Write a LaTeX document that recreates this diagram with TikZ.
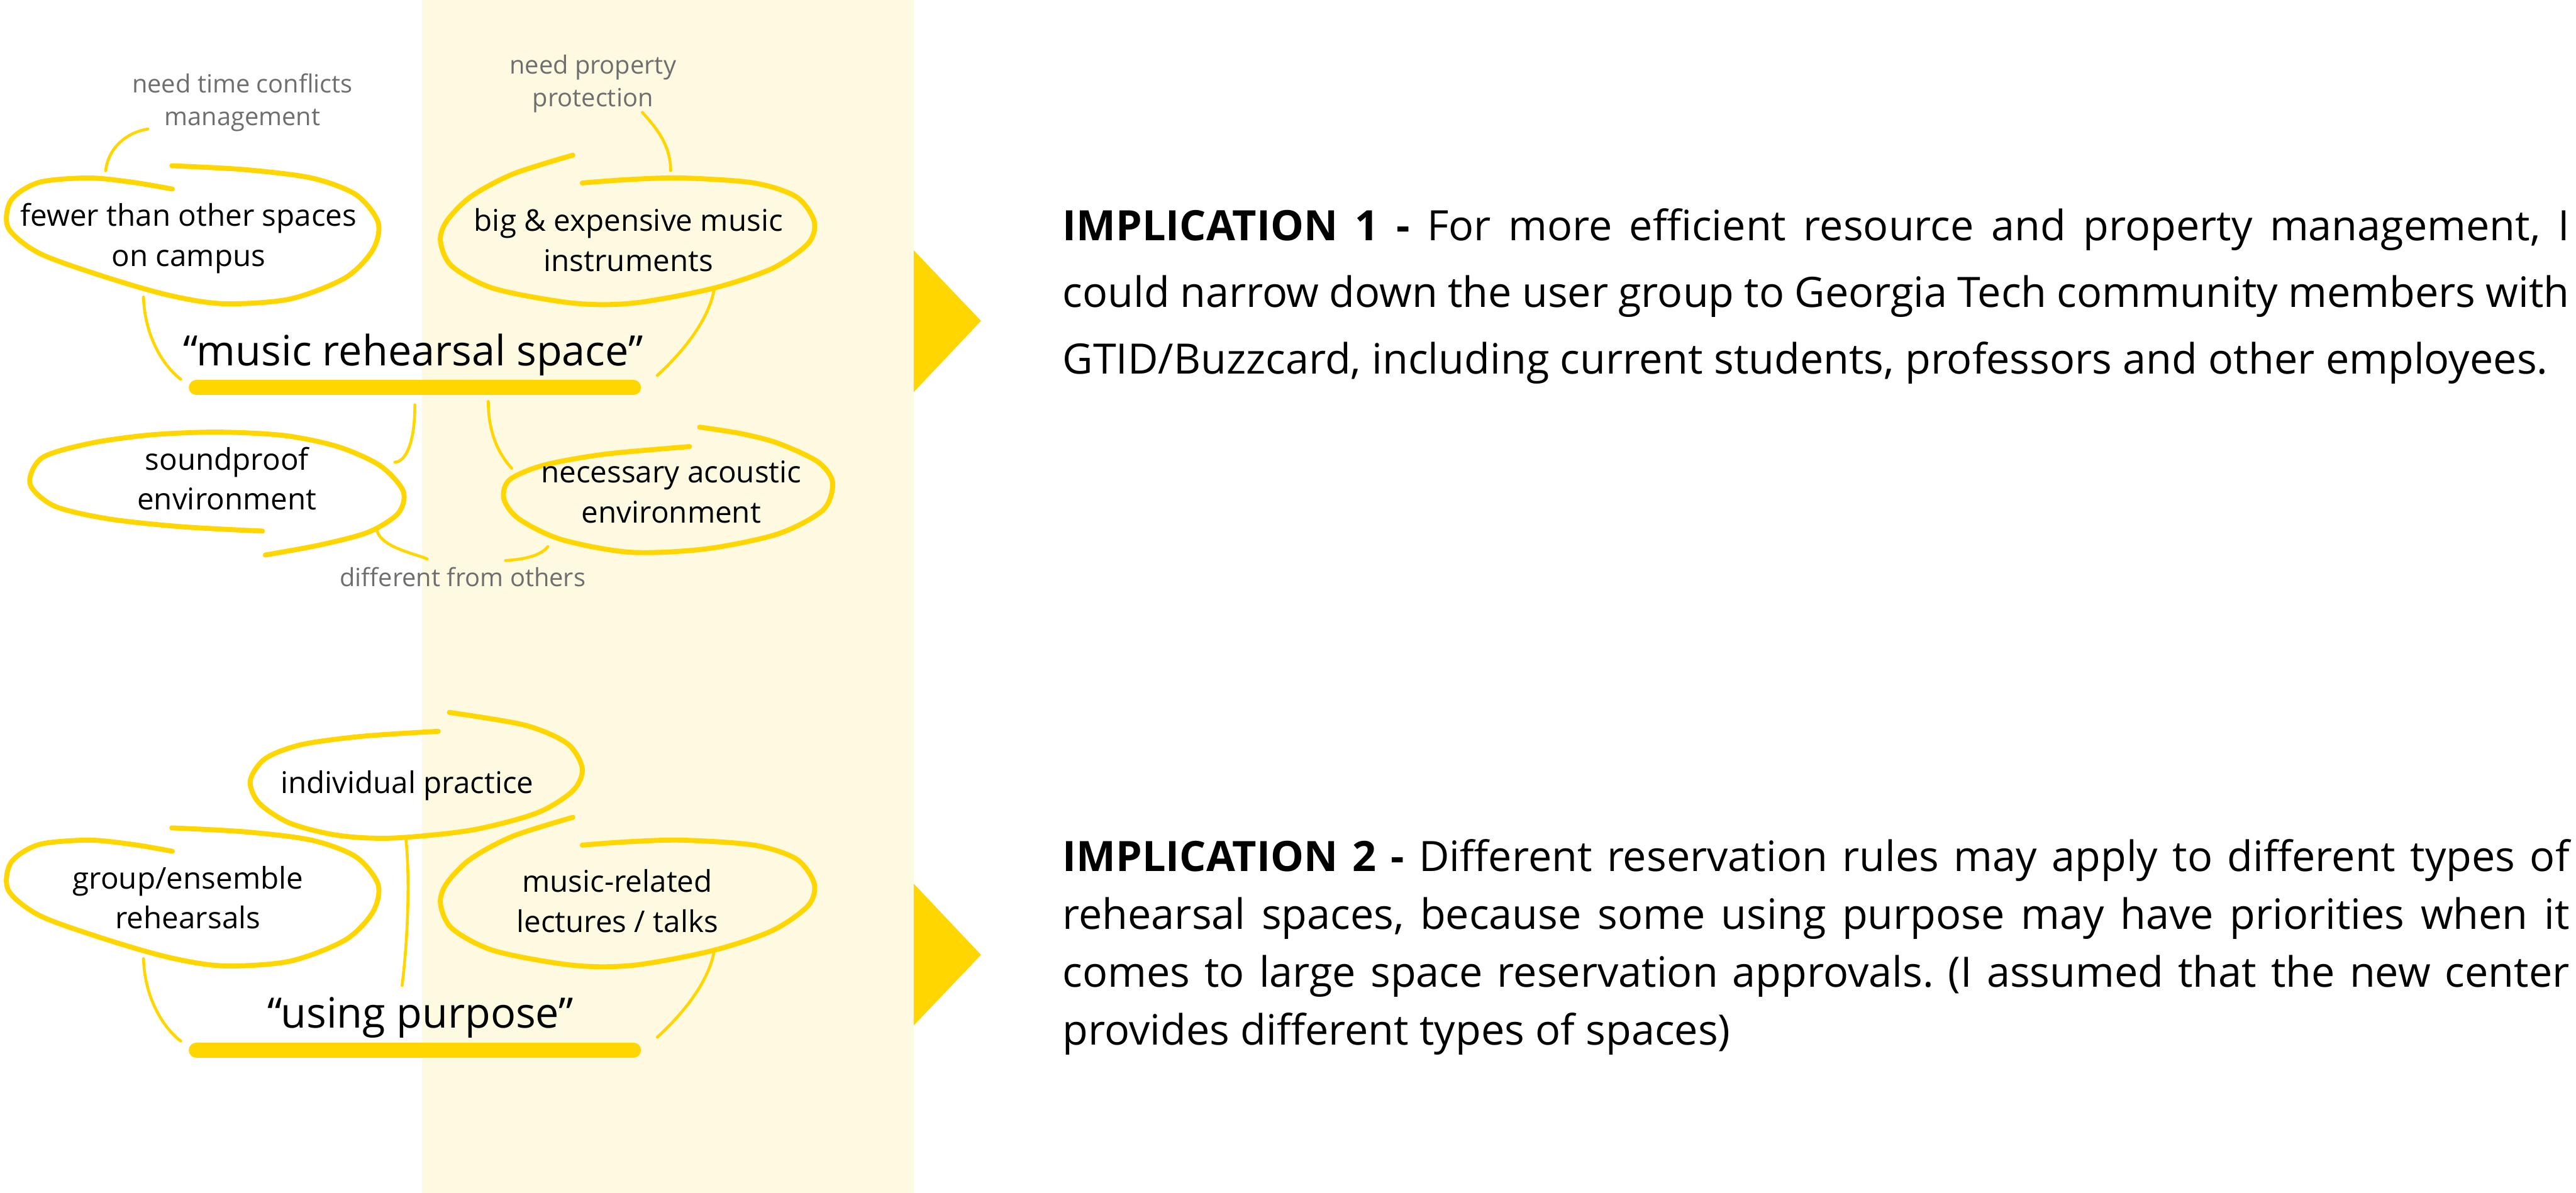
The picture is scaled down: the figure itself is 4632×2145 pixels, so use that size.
\documentclass[tikz,border=0pt]{standalone}
\usepackage{fontspec}
\setmainfont{Open Sans}
\frenchspacing
\definecolor{gold}{RGB}{255,214,0}
\definecolor{cream}{RGB}{254,249,225}
\definecolor{notegrey}{RGB}{110,110,110}
\tikzset{
  bubble/.style={draw=gold, line width=2.55pt, line cap=round, line join=round},
  link/.style={draw=gold, line width=1.5pt, line cap=round},
  thickbar/.style={draw=gold, line width=7.7pt, line cap=round},
  btext/.style={font=\fontsize{15.3}{20.5}\selectfont, inner sep=0pt, anchor=base},
  note/.style={font=\fontsize{12.8}{16.8}\selectfont, text=notegrey, inner sep=0pt, anchor=base},
  titletext/.style={font=\fontsize{21.4}{28}\selectfont, inner sep=0pt, anchor=base},
  impltext/.style={inner sep=0pt, anchor=base west},
}
\newcommand{\jline}[1]{\makebox[27.08cm][s]{#1}}
\begin{document}
\begin{tikzpicture}[x=0.01cm, y=-0.01cm]
\path[use as bounding box] (0,0) rectangle (4632,2145);
% background band
\fill[cream] (759,0) rectangle (1643,2145);
% arrows
\fill[gold] (1643,450) -- (1764,577) -- (1643,705) -- cycle;
\fill[gold] (1643,1589) -- (1764,1717) -- (1643,1844) -- cycle;

% ---------- upper cluster ----------
% bubble 1
\draw[bubble] plot[smooth] coordinates {(309,298) (440,305) (560,320) (640,350) (680,400) (670,450) (620,500) (520,538) (400,546) (300,530) (180,495) (70,455) (15,410) (20,360) (70,328) (160,320) (240,328) (310,340)};
\node[btext] (b1) at (339,407) {\begin{tabular}[t]{@{}c@{}}fewer than other spaces\\on campus\end{tabular}};
% bubble 2
\draw[bubble] plot[smooth] coordinates {(1030,279) (922,313) (846,354) (803,398) (792,434) (813,479) (889,519) (1030,545) (1139,545) (1280,519) (1388,483) (1453,438) (1464,398) (1432,354) (1356,329) (1226,320) (1128,323) (1047,329)};
\node[btext] (b2) at (1130,416) {\begin{tabular}[t]{@{}c@{}}big \& expensive music\\instruments\end{tabular}};
% notes
\node[note] (n1) at (436,167) {\begin{tabular}[t]{@{}c@{}}need time conflicts\\management\end{tabular}};
\node[note] (n2) at (1066,133) {\begin{tabular}[t]{@{}c@{}}need property\\protection\end{tabular}};
% title 1
\node[titletext] (t1) at (743,658) {“music rehearsal space”};
\coordinate (bar1l) at (353,697);
\coordinate (bar1r) at (1139,697);
\draw[thickbar] (bar1l) -- (bar1r);
% bubble 3
\draw[bubble] plot[smooth] coordinates {(472,955) (325,947) (195,933) (98,910) (54,870) (76,823) (163,797) (271,782) (390,777) (510,783) (607,803) (683,837) (725,883) (716,923) (662,957) (575,980) (477,998)};
\node[btext] (b3) at (408,845) {\begin{tabular}[t]{@{}c@{}}soundproof\\environment\end{tabular}};
% bubble 4
\draw[bubble] plot[smooth] coordinates {(1240,803) (1085,817) (976,837) (916,863) (906,897) (933,933) (1009,970) (1133,993) (1269,987) (1399,960) (1480,917) (1497,867) (1470,830) (1399,797) (1334,780) (1258,768)};
\node[btext] (b4) at (1207,868) {\begin{tabular}[t]{@{}c@{}}necessary acoustic\\environment\end{tabular}};
\node[note] (n3) at (832,1055) {different from others};

% connectors upper
\coordinate (c1a) at (190,307);  \coordinate (c1b) at (266,232);
\draw[link] (c1a) .. controls (195,265) and (228,238) .. (c1b);
\coordinate (c2a) at (1206,307); \coordinate (c2b) at (1155,202);
\draw[link] (c2a) .. controls (1206,255) and (1172,222) .. (c2b);
\coordinate (c3a) at (258,534);  \coordinate (c3b) at (325,682);
\draw[link] (c3a) .. controls (260,600) and (290,655) .. (c3b);
\coordinate (c4a) at (1285,516); \coordinate (c4b) at (1182,675);
\draw[link] (c4a) .. controls (1275,580) and (1220,640) .. (c4b);
\coordinate (c5a) at (746,728);  \coordinate (c5b) at (710,831);
\draw[link] (c5a) .. controls (746,800) and (728,831) .. (c5b);
\coordinate (c6a) at (878,722);  \coordinate (c6b) at (920,842);
\draw[link] (c6a) .. controls (878,790) and (905,825) .. (c6b);
\coordinate (c7a) at (678,955);  \coordinate (c7b) at (768,1005);
\draw[link] (c7a) .. controls (688,985) and (745,995) .. (c7b);
\coordinate (c8a) at (985,983);  \coordinate (c8b) at (909,1008);
\draw[link] (c8a) .. controls (970,1002) and (935,1006) .. (c8b);

% ---------- lower cluster ----------
% bubble 5
\draw[bubble] plot[smooth] coordinates {(788,1315) (651,1324) (542,1339) (477,1364) (450,1404) (466,1444) (521,1480) (607,1502) (705,1507) (846,1493) (965,1462) (1030,1422) (1047,1382) (1020,1337) (944,1304) (808,1281)};
\node[btext] (b5) at (732,1426) {individual practice};
% bubbles 6 and 7
\begin{scope}[yshift=-11.9cm]
\draw[bubble] plot[smooth] coordinates {(309,298) (440,305) (560,320) (640,350) (680,400) (670,450) (620,500) (520,538) (400,546) (300,530) (180,495) (70,455) (15,410) (20,360) (70,328) (160,320) (240,328) (310,340)};
\draw[bubble] plot[smooth] coordinates {(1030,279) (922,313) (846,354) (803,398) (792,434) (813,479) (889,519) (1030,545) (1139,545) (1280,519) (1388,483) (1453,438) (1464,398) (1432,354) (1356,329) (1226,320) (1128,323) (1047,329)};
\end{scope}
\node[btext] (b6) at (338,1598) {\begin{tabular}[t]{@{}c@{}}group/ensemble\\rehearsals\end{tabular}};
\node[btext] (b7) at (1110,1604) {\begin{tabular}[t]{@{}c@{}}music-related\\lectures / talks\end{tabular}};
\node[titletext] (t2) at (756,1848) {“using purpose”};
\coordinate (bar2l) at (353,1888);
\coordinate (bar2r) at (1139,1888);
\draw[thickbar] (bar2l) -- (bar2r);

\coordinate (c9a) at (730,1509);  \coordinate (c9b) at (723,1772);
\draw[link] (c9a) .. controls (738,1590) and (732,1700) .. (c9b);
\coordinate (c10a) at (258,1724); \coordinate (c10b) at (325,1872);
\draw[link] (c10a) .. controls (260,1790) and (290,1845) .. (c10b);
\coordinate (c11a) at (1285,1706); \coordinate (c11b) at (1182,1865);
\draw[link] (c11a) .. controls (1275,1770) and (1220,1830) .. (c11b);

% ---------- implications ----------
\node[impltext, font=\fontsize{21.4}{34.14}\selectfont] (imp1) at (1910,432) {\begin{tabular}[t]{@{}l@{}}
\jline{\textbf{IMPLICATION 1 -} For more efficient resource and property management, I}\\
\jline{could narrow down the user group to Georgia Tech community members with}\\
GTID/Buzzcard, including current students, professors and other employees.
\end{tabular}};
\node[impltext, font=\fontsize{21.4}{29.6}\selectfont] (imp2) at (1910,1567) {\begin{tabular}[t]{@{}l@{}}
\jline{\textbf{IMPLICATION 2 -} Different reservation rules may apply to different types of}\\
\jline{rehearsal spaces, because some using purpose may have priorities when it}\\
\jline{comes to large space reservation approvals. (I assumed that the new center}\\
provides different types of spaces)
\end{tabular}};
\end{tikzpicture}
\end{document}
